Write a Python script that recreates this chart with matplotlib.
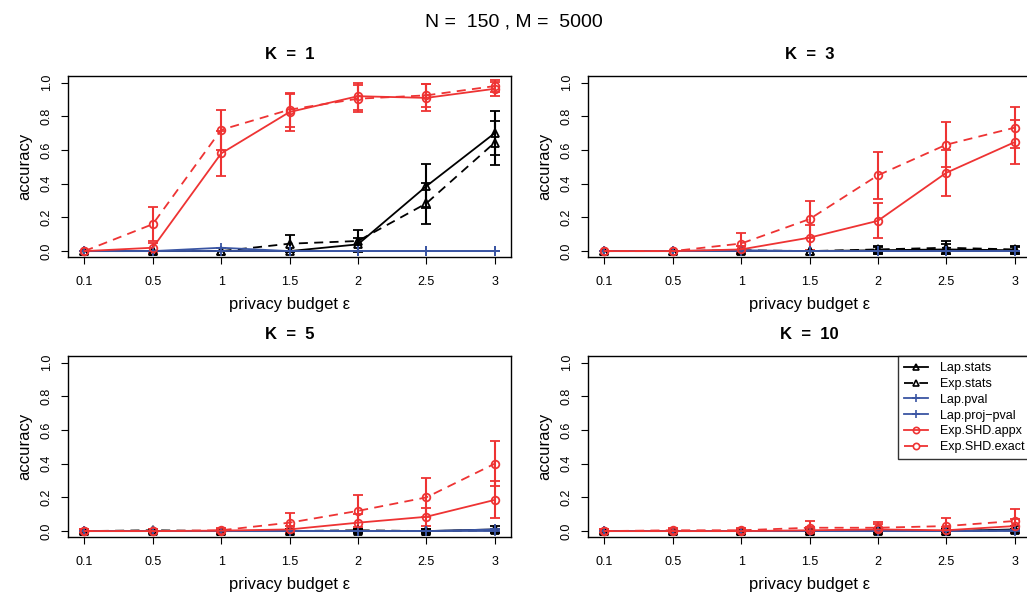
import matplotlib
matplotlib.use("Agg")
import matplotlib.pyplot as plt
from matplotlib.lines import Line2D
import numpy as np

plt.rcParams['font.family'] = ['Liberation Sans', 'DejaVu Sans']

eps_labels = ["0.1", "0.5", "1", "1.5", "2", "2.5", "3"]
k_values = [1, 3, 5, 10]

# each list holds one row per K (1, 3, 5, 10)
lap_stats = [[0, 0, 0, 0, 0.04, 0.385, 0.70],
             [0, 0, 0, 0, 0.005, 0.01, 0.005],
             [0, 0, 0, 0, 0, 0, 0.01],
             [0, 0, 0, 0, 0.005, 0, 0.01]]
lap_stats_err = [[0, 0, 0, 0, 0.04, 0.13, 0.13],
                 [0, 0, 0.005, 0, 0.02, 0.03, 0.02],
                 [0.01, 0.01, 0.01, 0.01, 0.01, 0.01, 0.02],
                 [0.01, 0.01, 0.01, 0.01, 0.015, 0.01, 0.02]]
exp_stats = [[0, 0, 0, 0.044, 0.06, 0.283, 0.644],
             [0, 0, 0.005, 0, 0.01, 0.02, 0.01],
             [0, 0.005, 0, 0, 0.005, 0, 0.005],
             [0, 0, 0, 0, 0, 0, 0.005]]
exp_stats_err = [[0, 0, 0, 0.05, 0.065, 0.12, 0.13],
                 [0, 0, 0, 0, 0.02, 0.04, 0.02],
                 [0.01, 0.01, 0.01, 0.01, 0.01, 0.01, 0.01],
                 [0.01, 0.01, 0.01, 0.01, 0.01, 0.01, 0.01]]
lap_pval = [[0, 0, 0.02, 0, 0, 0, 0],
            [0, 0, 0.005, 0, 0, 0, 0],
            [0, 0, 0, 0, 0, 0, 0.01],
            [0, 0, 0, 0, 0, 0, 0.005]]
lap_proj_pval = [[0, 0, 0, 0, 0, 0, 0],
                 [0, 0, 0, 0, 0, 0, 0],
                 [0, 0, 0, 0, 0, 0, 0],
                 [0, 0, 0, 0, 0, 0, 0]]
shd_appx = [[0, 0.02, 0.58, 0.826, 0.92, 0.91, 0.964],
            [0, 0, 0.01, 0.08, 0.18, 0.465, 0.647],
            [0, 0, 0.003, 0.01, 0.05, 0.085, 0.185],
            [0, 0, 0, 0.005, 0.01, 0.005, 0.03]]
shd_appx_err = [[0, 0.03, 0.135, 0.11, 0.08, 0.08, 0.04],
                [0, 0, 0.02, 0.075, 0.105, 0.135, 0.13],
                [0.01, 0.01, 0.01, 0.02, 0.05, 0.055, 0.11],
                [0.01, 0.01, 0.015, 0.02, 0.03, 0.02, 0.04]]
shd_exact = [[0, 0.16, 0.72, 0.84, 0.905, 0.925, 0.98],
             [0, 0, 0.045, 0.19, 0.45, 0.632, 0.733],
             [0, 0, 0.005, 0.05, 0.12, 0.20, 0.40],
             [0, 0.005, 0.005, 0.02, 0.02, 0.03, 0.06]]
shd_exact_err = [[0, 0.10, 0.12, 0.10, 0.08, 0.07, 0.035],
                 [0, 0, 0.06, 0.11, 0.14, 0.135, 0.12],
                 [0.01, 0.01, 0.015, 0.06, 0.095, 0.115, 0.135],
                 [0.01, 0.015, 0.015, 0.04, 0.035, 0.05, 0.07]]

BLACK = "black"
BLUE = "#3A55A3"
RED = "#EE3333"
DASH = (0, (5, 3.5))

series = [
    ("Lap.stats", lap_stats, lap_stats_err, BLACK, "-", "^"),
    ("Exp.stats", exp_stats, exp_stats_err, BLACK, DASH, "^"),
    ("Lap.pval", lap_pval, None, BLUE, "-", "+"),
    ("Lap.proj\u2212pval", lap_proj_pval, None, BLUE, "-", "+"),
    ("Exp.SHD.appx", shd_appx, shd_appx_err, RED, "-", "o"),
    ("Exp.SHD.exact", shd_exact, shd_exact_err, RED, DASH, "o"),
]

fig = plt.figure(figsize=(10.27, 5.94), dpi=100)
W, H = 1027, 594
boxes = [(68, 76), (588, 76), (68, 356), (588, 356)]
bw, bh = 443, 181

x = np.arange(len(eps_labels))
for i, k in enumerate(k_values):
    l, t = boxes[i]
    ax = fig.add_axes([l / W, 1 - (t + bh) / H, bw / W, bh / H])
    for name, vals, errs, col, ls, mk in series:
        v = np.array(vals[i])
        if errs is not None:
            ax.errorbar(x, v, yerr=np.array(errs[i]), fmt="none", ecolor=col,
                        elinewidth=1.5, capsize=3.6, capthick=1.3, zorder=3)
        ax.plot(x, v, color=col, linestyle=ls, linewidth=1.3, marker=mk,
                markersize=7 if mk == "+" else 5.5, markerfacecolor="none",
                markeredgecolor=col, markeredgewidth=1.3, zorder=4)
    ax.set_xlim(-0.24, 6.24)
    ax.set_ylim(-0.035, 1.04)
    ax.set_xticks(x)
    ax.set_xticklabels(eps_labels, fontsize=9)
    ax.set_yticks([0, 0.2, 0.4, 0.6, 0.8, 1.0])
    ax.set_yticklabels(["0.0", "0.2", "0.4", "0.6", "0.8", "1.0"], fontsize=9,
                       rotation=90, va="center")
    ax.tick_params(direction="out", length=5, width=0.8, pad=6)
    ax.tick_params(axis="x", pad=9)
    for s in ax.spines.values():
        s.set_linewidth(1.0)
    ax.set_xlabel("privacy budget \u03b5", fontsize=12, labelpad=6)
    ax.set_ylabel("accuracy", fontsize=12, labelpad=6)
    ax.set_title(f"K  =  {k}", fontsize=12, fontweight="bold", pad=12)
    if k == 10:
        handles = [Line2D([0], [0], color=col, linestyle=ls, linewidth=1.3,
                          marker=mk, markersize=6 if mk == "+" else 4.5,
                          markerfacecolor="none", markeredgecolor=col,
                          markeredgewidth=1.2)
                   for name, vals, errs, col, ls, mk in series]
        labels = [s[0] for s in series]
        leg = ax.legend(handles, labels, loc="upper right", fontsize=9,
                        frameon=True, fancybox=False, handlelength=1.9,
                        handletextpad=1.0, labelspacing=0.3,
                        borderpad=0.5, borderaxespad=0.0,
                        bbox_to_anchor=(1.0, 1.0))
        leg.get_frame().set_edgecolor("black")
        leg.get_frame().set_linewidth(1.0)

fig.text(0.5, 1 - 22 / H, "N =  150 , M =  5000", ha="center", va="center",
         fontsize=14)

fig.savefig("out.png", dpi=100)
